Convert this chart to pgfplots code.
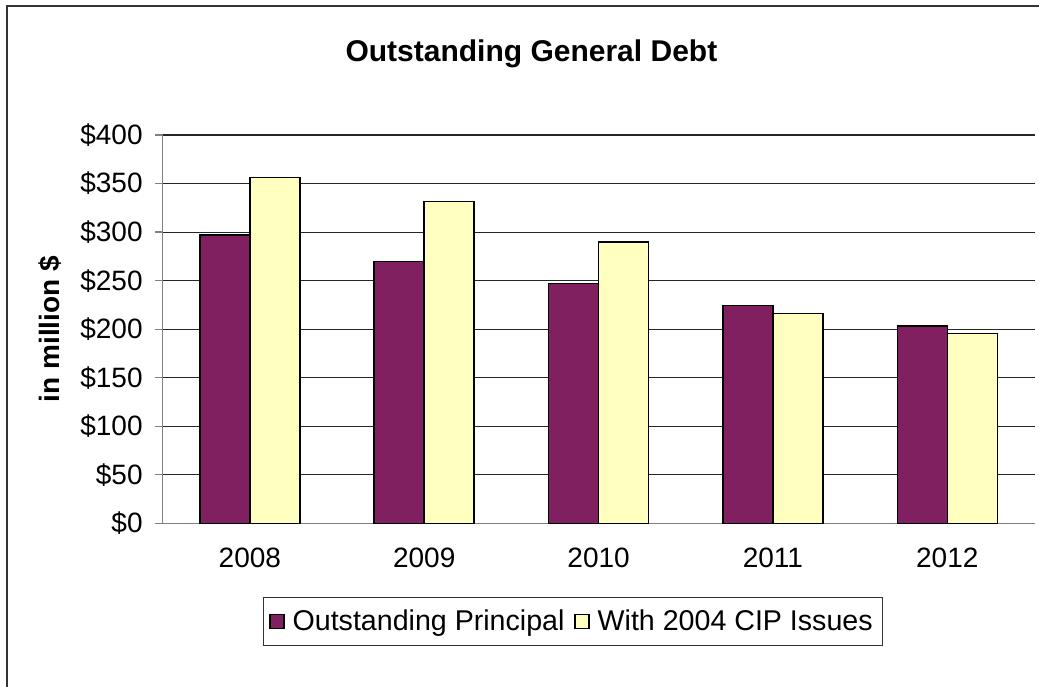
\documentclass[border=0pt]{standalone}
\usepackage{pgfplots}
\pgfplotsset{compat=1.18}
\usepackage{fontspec}
\setmainfont{Liberation Sans}
\definecolor{plum}{RGB}{128,32,96}
\definecolor{cream}{RGB}{255,255,192}
\begin{document}
\begin{tikzpicture}[x=1pt,y=1pt]
\useasboundingbox (0,0) rectangle (519.5,343);
\draw[line width=0.9pt, black!80] (3.5,-20) rectangle (560,340);
\node[font=\fontsize{15}{18}\selectfont\bfseries] at (265.7,316) {Outstanding General Debt};
\begin{axis}[
  at={(81.35pt,81.35pt)}, anchor=south west,
  scale only axis, width=435.9pt, height=194.15pt,
  xmin=-0.5, xmax=4.5, ymin=0, ymax=400,
  axis x line*=bottom, axis y line*=left,
  axis line style={black!50, line width=0.6pt},
  ybar=0pt, bar width=25pt,
  xtick={0,1,2,3,4},
  xticklabels={2008,2009,2010,2011,2012},
  x tick style={draw=none},
  extra x ticks={-0.5,0.5,1.5,2.5,3.5,4.5},
  extra x tick labels={},
  extra x tick style={grid=none, tick style={draw=black!50, line width=0.6pt}, major tick length=4pt},
  tick align=outside,
  ytick={0,50,...,400},
  yticklabels={\$0,\$50,\$100,\$150,\$200,\$250,\$300,\$350,\$400},
  y tick style={draw=black!50, line width=0.6pt},
  major tick length=4pt,
  ymajorgrids,
  major grid style={black!85, line width=0.55pt},
  tick label style={font=\fontsize{14}{16}\selectfont},
  xticklabel style={yshift=-5pt},
  yticklabel style={xshift=-2.5pt},
  /pgf/number format/assume math mode=true,
  ylabel={\textbf{in million \$}},
  every axis y label/.style={at={(-56.35pt,0.5)}, rotate=90, anchor=center, font=\fontsize{14}{16}\selectfont},
  legend columns=2,
  legend style={at={(0.4707,-0.2534)}, anchor=center, draw=black!80, line width=0.6pt,
    font=\fontsize{14.3}{16}\selectfont, inner xsep=3pt, inner ysep=4pt,
    /tikz/every even column/.append style={column sep=3pt},
    /tikz/every odd column/.append style={column sep=2pt}},
  legend image code/.code={\draw[#1, line width=0.6pt] (0pt,-3.4pt) rectangle (7pt,3.6pt);},
]
\addplot[fill=plum, draw=black, line width=0.75pt] coordinates {(0,297) (1,269.5) (2,247) (3,224.5) (4,203.2)};
\addplot[fill=cream, draw=black, line width=0.75pt] coordinates {(0,356) (1,331.7) (2,290) (3,216) (4,195.5)};
\legend{Outstanding Principal, With 2004 CIP Issues}
\end{axis}
\end{tikzpicture}
\end{document}
